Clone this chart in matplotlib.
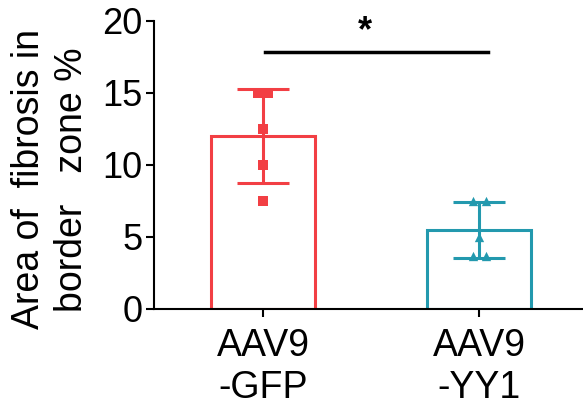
import numpy as np
import matplotlib
matplotlib.use("Agg")
import matplotlib.pyplot as plt

plt.rcParams['font.family'] = ['Liberation Sans', 'DejaVu Sans']

# data
groups = ["AAV9\n-GFP", "AAV9\n-YY1"]
gfp_pts = [15.0, 15.0, 12.5, 10.0, 7.5]
yy1_pts = [7.5, 7.5, 5.0, 3.7, 3.7]
gfp_jit = [-0.025, 0.025, 0.0, 0.0, 0.0]
yy1_jit = [-0.03, 0.03, 0.0, -0.03, 0.03]
colors = ["#F23F44", "#2399AE"]
markers = ["s", "^"]

pts = [gfp_pts, yy1_pts]
jits = [gfp_jit, yy1_jit]
means = [np.mean(p) for p in pts]
sds = [np.std(p, ddof=1) for p in pts]

fig = plt.figure(figsize=(5.83, 4.08), dpi=100)
ax = fig.add_axes([0.264, 0.243, 0.736, 0.706])

x = np.arange(len(groups))
for i in range(len(groups)):
	ax.bar(x[i], means[i], width=0.48, facecolor="white", edgecolor=colors[i], linewidth=2.2, zorder=2)
	ax.errorbar(x[i], means[i], yerr=sds[i], color=colors[i], capsize=19, elinewidth=2.2, capthick=2.2, zorder=3)
	ax.scatter(x[i] + np.array(jits[i]), pts[i], marker=markers[i], s=45, color=colors[i], zorder=4, linewidths=0)

# significance bar
ax.plot([0.01, 1.04], [17.8, 17.8], color="black", lw=2.5, clip_on=False)
ax.text(0.47, 18.0, "*", ha="center", va="bottom", fontsize=26, fontweight="bold")

ax.set_xlim(-0.505, 1.48)
ax.set_ylim(0, 20)
ax.set_yticks([0, 5, 10, 15, 20])
ax.set_xticks(x)
ax.set_xticklabels(groups, fontsize=27, linespacing=1.2)
ax.tick_params(axis='y', labelsize=26, width=1.5, length=6, pad=2)
ax.tick_params(axis='x', width=1.5, length=6, pad=8)
ax.spines['top'].set_visible(False)
ax.spines['right'].set_visible(False)
ax.spines['left'].set_linewidth(1.5)
ax.spines['bottom'].set_linewidth(1.5)
ax.set_ylabel("Area of  fibrosis in\nborder   zone %", fontsize=27, linespacing=1.25)
ax.yaxis.set_label_coords(-0.15, 0.45)

plt.savefig("out.png", dpi=100)
